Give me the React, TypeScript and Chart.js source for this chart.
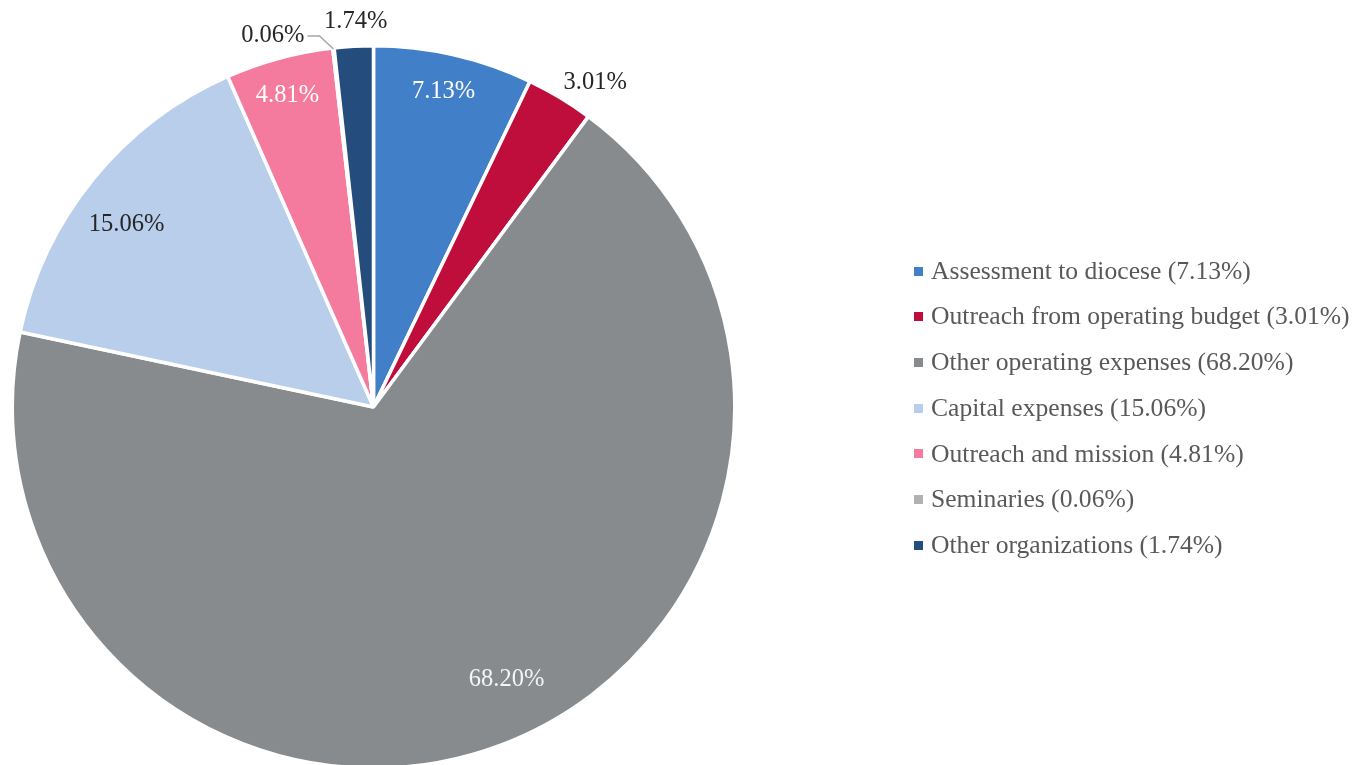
import React, { useEffect, useRef } from "react";
import { Chart, registerables } from "chart.js";

Chart.register(...registerables);

const categories = [
  "Assessment to diocese",
  "Outreach from operating budget",
  "Other operating expenses",
  "Capital expenses",
  "Outreach and mission",
  "Seminaries",
  "Other organizations",
];
const shares = [7.13, 3.01, 68.2, 15.06, 4.81, 0.06, 1.74];
const sliceColors = ["#417FC8", "#C00E3C", "#888B8D", "#B8CEEA", "#F57B9E", "#B1B1B1", "#244C7D"];
const labelColors = ["#FFFFFF", "#262626", "#F4F4F4", "#262626", "#FFFFFF", "#262626", "#262626"];
// label placement: radius factor and small angular nudge (degrees); null = leader line
const labelRadius = [0.905, 1.097, 0.836, 0.857, 0.904, null, 1.08];
const labelNudge = [-0.4, 3.1, -5.5, -2.3, -0.2, 0, 0.5];

const LABEL_FONT = '24.5px "Liberation Serif", "Times New Roman", serif';
const LEGEND_FONT = '25.6px "Liberation Serif", "Times New Roman", serif';
const TEXT_DY = 2.5;

const overlayPlugin = {
  id: "overlay",
  afterDraw(chart: any) {
    const ctx = chart.ctx;
    const meta = chart.getDatasetMeta(0);
    ctx.save();
    ctx.font = LABEL_FONT;
    ctx.textBaseline = "middle";
    meta.data.forEach((arc: any, i: number) => {
      const p = arc.getProps(["x", "y", "startAngle", "endAngle", "outerRadius"], true);
      const mid = (p.startAngle + p.endAngle) / 2;
      const text = shares[i].toFixed(2) + "%";
      const f = labelRadius[i];
      if (f === null) {
        const ex = p.x + (p.outerRadius - 1) * Math.cos(mid);
        const ey = p.y + (p.outerRadius - 1) * Math.sin(mid);
        const bx = ex - 14;
        const by = ey - 13;
        const tx = bx - 12;
        ctx.strokeStyle = "#A6A6A6";
        ctx.lineWidth = 1.5;
        ctx.beginPath();
        ctx.moveTo(ex, ey);
        ctx.lineTo(bx, by);
        ctx.lineTo(tx, by);
        ctx.stroke();
        ctx.fillStyle = labelColors[i];
        ctx.textAlign = "right";
        ctx.fillText(text, tx - 3, by - 3 + TEXT_DY);
      } else {
        const a = mid + (labelNudge[i] * Math.PI) / 180;
        const r = (p.outerRadius - 1.5) * f;
        ctx.fillStyle = labelColors[i];
        ctx.textAlign = "center";
        ctx.fillText(text, p.x + r * Math.cos(a), p.y + r * Math.sin(a) + TEXT_DY);
      }
    });
    // legend
    ctx.font = LEGEND_FONT;
    ctx.textAlign = "left";
    categories.forEach((c, i) => {
      const y = 271 + i * 45.7;
      ctx.fillStyle = sliceColors[i];
      ctx.fillRect(914, Math.round(y - 4.5), 9, 9);
      ctx.fillStyle = "#595959";
      ctx.fillText(`${c} (${shares[i].toFixed(2)}%)`, 931, y + 1);
    });
    ctx.restore();
  },
};

export default function App() {
  const ref = useRef<HTMLCanvasElement | null>(null);
  useEffect(() => {
    if (!ref.current) return;
    const chart = new Chart(ref.current, {
      type: "pie",
      data: {
        labels: categories,
        datasets: [
          {
            data: shares,
            backgroundColor: sliceColors,
            borderColor: "#FFFFFF",
            borderWidth: 3.5,
          },
        ],
      },
      options: {
        responsive: false,
        animation: false,
        layout: { padding: { left: 10, top: 44, right: 628, bottom: 0 } },
        plugins: {
          legend: { display: false },
          tooltip: { enabled: false },
        },
      },
      plugins: [overlayPlugin],
    });
    return () => chart.destroy();
  }, []);
  return (
    <div
      style={{
        position: "fixed",
        left: 0,
        top: 0,
        width: 1365,
        height: 765,
        overflow: "hidden",
        background: "#FFFFFF",
      }}
    >
      <canvas ref={ref} width={1365} height={770} style={{ display: "block" }} />
    </div>
  );
}
